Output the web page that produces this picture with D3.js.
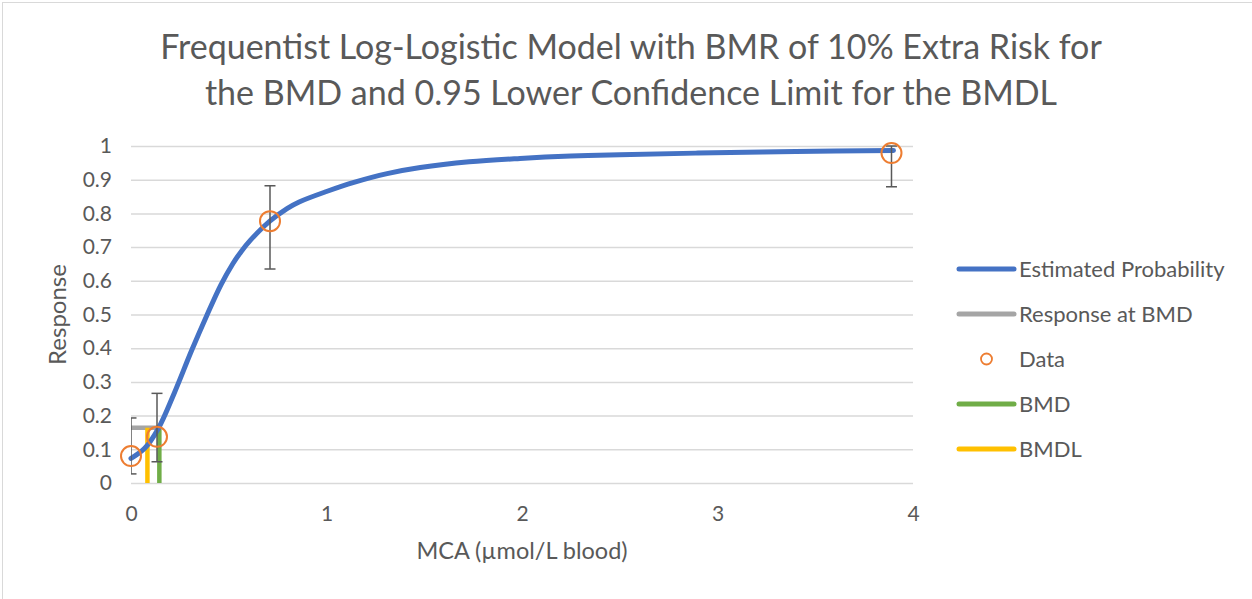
<!DOCTYPE html>
<html><head><meta charset="utf-8">
<script src="https://cdn.jsdelivr.net/npm/d3@7"></script>
<style>body{margin:0;background:#fff;}svg{display:block;font-family:Lato,"Open Sans",sans-serif;}</style>
</head><body>
<svg id="c" width="1252" height="599"></svg>
<script>
const titleLines = ["Frequentist Log-Logistic Model with BMR of 10% Extra Risk for","the BMD and 0.95 Lower Confidence Limit for the BMDL"];
const xTitle = "MCA (µmol/L blood)";
const yTitle = "Response";
const xTicks = [0,1,2,3,4];
const yTicks = [0,0.1,0.2,0.3,0.4,0.5,0.6,0.7,0.8,0.9,1];
// Estimated probability curve
const curveDose = [0,0.07,0.14,0.22,0.31,0.39,0.46,0.52,0.565,0.61,0.71,0.8,0.86,1.0,1.14,1.31,1.48,1.73,1.99,2.25,2.5,2.9,3.4,3.9];
const curveResp = [0.073,0.103,0.162,0.265,0.393,0.50,0.588,0.650,0.688,0.72,0.777,0.815,0.834,0.865,0.892,0.918,0.936,0.953,0.963,0.970,0.974,0.979,0.984,0.987];
// Observed data with confidence limits
const dataDose = [0,0.133,0.711,3.89];
const dataResp = [0.08,0.137,0.777,0.979];
const dataLow = [0.027,0.063,0.635,0.879];
const dataHigh = [0.193,0.266,0.882,1.0];
// BMD / BMDL
const bmd = 0.145, bmdl = 0.084, bmdResp = 0.164;
const legendNames = ["Estimated Probability","Response at BMD","Data","BMD","BMDL"];
const legendColors = ["#4472C4","#A5A5A5","#ED7D31","#70AD47","#FFC000"];

const svg = d3.select("#c");
const L=131,R=913,T=146,B=483;
const x = d3.scaleLinear().domain([0,4]).range([L,R]);
const y = d3.scaleLinear().domain([0,1]).range([B,T]);
const txt = "#595959";

svg.append("rect").attr("x",2.5).attr("y",2.5).attr("width",1260).attr("height",610)
  .attr("fill","#fff").attr("stroke","#D9D9D9").attr("stroke-width",1);

const tg = svg.append("g").attr("fill",txt).attr("font-size",34).attr("text-anchor","middle");
titleLines.forEach((t,i)=>tg.append("text").attr("x",631).attr("y",59+i*46).text(t));

// grid
const yAxis = d3.axisLeft(y).tickValues(yTicks).tickSize(-(R-L)).tickFormat(d=>d3.format("~g")(d));
const gy = svg.append("g").attr("transform",`translate(${L},0)`).call(yAxis);
gy.select(".domain").remove();
gy.selectAll(".tick line").attr("stroke","#D9D9D9").attr("stroke-width",1.5);
gy.selectAll(".tick text").attr("x",-19).attr("fill",txt).attr("font-size",21).attr("font-family","Lato");

const xAxis = d3.axisBottom(x).tickValues(xTicks).tickSize(0).tickFormat(d3.format("d"));
const gx = svg.append("g").attr("transform",`translate(0,${B})`).call(xAxis);
gx.select(".domain").remove();
gx.selectAll(".tick text").attr("y",23).attr("fill",txt).attr("font-size",21).attr("font-family","Lato");

svg.append("text").attr("x",(L+R)/2).attr("y",559).attr("text-anchor","middle").attr("fill",txt).attr("font-size",23.5).text(xTitle);
svg.append("text").attr("transform",`translate(66,${(T+B)/2}) rotate(-90)`).attr("text-anchor","middle").attr("fill",txt).attr("font-size",24).text(yTitle);

// clip
svg.append("clipPath").attr("id","pc").append("rect").attr("x",L).attr("y",T-2).attr("width",R-L).attr("height",B-T+4);

// response at BMD
svg.append("line").attr("x1",x(0)).attr("x2",x(bmd)).attr("y1",y(bmdResp)).attr("y2",y(bmdResp))
  .attr("stroke","#A5A5A5").attr("stroke-width",4.5);
svg.append("line").attr("x1",x(bmd)).attr("x2",x(bmd)).attr("y1",y(0)).attr("y2",y(bmdResp))
  .attr("stroke","#70AD47").attr("stroke-width",4.5);
svg.append("line").attr("x1",x(bmdl)).attr("x2",x(bmdl)).attr("y1",y(0)).attr("y2",y(bmdResp))
  .attr("stroke","#FFC000").attr("stroke-width",4.5);

// curve
const pts = curveDose.map((d,i)=>[d,curveResp[i]]);
svg.append("path").datum(pts).attr("fill","none").attr("stroke","#4472C4").attr("stroke-width",5)
  .attr("stroke-linecap","round")
  .attr("d",d3.line().x(d=>x(d[0])).y(d=>y(d[1])).curve(d3.curveCatmullRom.alpha(0.5)));

// error bars
const eb = svg.append("g").attr("clip-path","url(#pc)").attr("stroke","#595959").attr("stroke-width",1.5);
dataDose.forEach((d,i)=>{
  const cx=x(d);
  eb.append("line").attr("x1",cx).attr("x2",cx).attr("y1",y(dataLow[i])).attr("y2",y(dataHigh[i]));
  [dataLow[i],dataHigh[i]].forEach(v=>eb.append("line").attr("x1",cx-5.5).attr("x2",cx+5.5).attr("y1",y(v)).attr("y2",y(v)));
});
// data markers
svg.append("g").selectAll("circle").data(dataDose).join("circle")
  .attr("cx",d=>x(d)).attr("cy",(d,i)=>y(dataResp[i])).attr("r",10)
  .attr("fill","none").attr("stroke","#ED7D31").attr("stroke-width",2);

// legend
const lg = svg.append("g");
legendNames.forEach((n,i)=>{
  const yy = 269 + i*45;
  if(n==="Data"){
    lg.append("circle").attr("cx",986.5).attr("cy",yy).attr("r",5.5).attr("fill","none").attr("stroke",legendColors[i]).attr("stroke-width",1.8);
  } else {
    lg.append("line").attr("x1",959).attr("x2",1014).attr("y1",yy).attr("y2",yy).attr("stroke",legendColors[i]).attr("stroke-width",5).attr("stroke-linecap","round");
  }
  lg.append("text").attr("x",1019).attr("y",yy).attr("dy","0.35em").attr("fill",txt).attr("font-size",22).text(n);
});
</script>
</body></html>
